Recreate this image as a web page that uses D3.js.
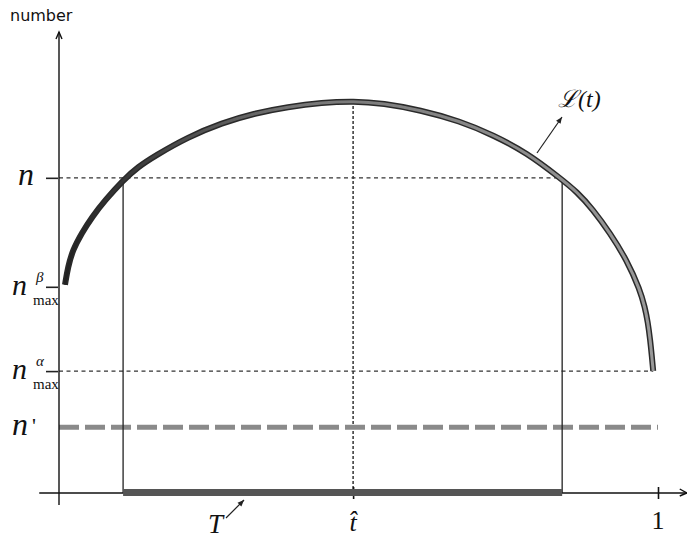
<!DOCTYPE html>
<html>
<head>
<meta charset="utf-8">
<script src="https://cdn.jsdelivr.net/npm/d3@7"></script>
<style>
  body { margin: 0; background: #fff; }
  .math { font-family: "Liberation Serif", "DejaVu Serif", serif; font-style: italic; fill: #111; }
</style>
</head>
<body>
<div id="chart"></div>
<script>
// curve L(t)
var tVals = [0.010, 0.015, 0.023, 0.038, 0.055, 0.077, 0.107, 0.132, 0.160, 0.215, 0.272, 0.327, 0.382, 0.439, 0.492,
             0.541, 0.603, 0.669, 0.725, 0.781, 0.836, 0.865, 0.891, 0.920, 0.948, 0.970, 0.978, 0.983, 0.987, 0.990, 0.992];
var lVals = [0.531, 0.577, 0.620, 0.663, 0.704, 0.747, 0.798, 0.832, 0.860, 0.908, 0.944, 0.969, 0.985, 0.996, 1.000,
             0.994, 0.977, 0.949, 0.913, 0.868, 0.804, 0.768, 0.724, 0.663, 0.594, 0.518, 0.474, 0.436, 0.390, 0.344, 0.311];

// levels on the number axis
var nLevel = 0.804;
var nBeta = 0.526;
var nAlpha = 0.311;
var nPrime = 0.168;
var yTop = 1.176;

// points on the time axis
var tHat = 0.491;
var T = [0.107, 0.840];
var tEnd = 1.048;
var tStart = -0.033;

var svgWidth = 687;
var svgHeight = 539;

var svg = d3.select("#chart")
  .append("svg")
  .attr("width", svgWidth)
  .attr("height", svgHeight);

var x = d3.scaleLinear().domain([0, 1]).range([59, 658]);
var y = d3.scaleLinear().domain([0, 1]).range([493, 101]);

var defs = svg.append("defs");
var grad = defs.append("linearGradient")
  .attr("id", "curveGrad")
  .attr("x1", "0%").attr("x2", "100%");
grad.append("stop").attr("offset", "0%").attr("stop-color", "#222");
grad.append("stop").attr("offset", "40%").attr("stop-color", "#777");
grad.append("stop").attr("offset", "100%").attr("stop-color", "#999");

// dotted guide lines
var dotted = svg.append("g")
  .attr("stroke", "#333")
  .attr("stroke-width", 1.3)
  .attr("stroke-dasharray", "4,3.5")
  .attr("fill", "none");

dotted.append("line")
  .attr("x1", x(0)).attr("x2", x(T[1]))
  .attr("y1", y(nLevel)).attr("y2", y(nLevel));

dotted.append("line")
  .attr("x1", x(0)).attr("x2", x(tVals[tVals.length - 1]))
  .attr("y1", y(nAlpha)).attr("y2", y(nAlpha));

dotted.append("line")
  .attr("x1", x(tHat)).attr("x2", x(tHat))
  .attr("y1", y(1)).attr("y2", y(0))
  .attr("stroke-dasharray", "3,2")
  .attr("stroke-width", 1.5);

// n' dashed level
svg.append("line")
  .attr("x1", x(0)).attr("x2", x(1))
  .attr("y1", y(nPrime)).attr("y2", y(nPrime))
  .attr("stroke", "#8a8a8a")
  .attr("stroke-width", 5)
  .attr("stroke-dasharray", "20,6");

// vertical lines at the ends of T
svg.selectAll(".tline")
  .data(T)
  .enter()
  .append("line")
  .attr("class", "tline")
  .attr("x1", function(d) { return x(d); })
  .attr("x2", function(d) { return x(d); })
  .attr("y1", y(nLevel))
  .attr("y2", y(0))
  .attr("stroke", "#222")
  .attr("stroke-width", 1.3);

// axes
var axisG = svg.append("g").attr("stroke", "#111").attr("stroke-width", 1.4).attr("fill", "none");
axisG.append("line")
  .attr("x1", x(tStart)).attr("x2", x(tEnd))
  .attr("y1", y(0)).attr("y2", y(0));
axisG.append("path")
  .attr("d", "M" + (x(tEnd) - 7) + "," + (y(0) - 4) + "L" + x(tEnd) + "," + y(0) + "L" + (x(tEnd) - 7) + "," + (y(0) + 3));
axisG.append("line")
  .attr("x1", x(0)).attr("x2", x(0))
  .attr("y1", y(0) + 12).attr("y2", y(yTop));
axisG.append("path")
  .attr("d", "M" + (x(0) - 3) + "," + (y(yTop) + 7) + "L" + x(0) + "," + y(yTop) + "L" + (x(0) + 3) + "," + (y(yTop) + 7));

// bottom ticks
var bottomAxis = d3.axisBottom(x)
  .tickValues([tHat, 1])
  .tickSize(12)
  .tickFormat("");
var xAxis = svg.append("g")
  .attr("transform", "translate(0," + (y(0) - 6) + ")")
  .call(bottomAxis);
xAxis.select(".domain").remove();
xAxis.selectAll(".tick line").attr("stroke", "#111").attr("stroke-width", 1.6);

// left ticks
var leftAxis = d3.axisLeft(y)
  .tickValues([nLevel, nBeta, nAlpha])
  .tickSize(12)
  .tickFormat("");
var yAxis = svg.append("g")
  .attr("transform", "translate(" + (x(0) - 1) + ",0)")
  .call(leftAxis);
yAxis.select(".domain").remove();
yAxis.selectAll(".tick line").attr("stroke", "#222").attr("stroke-width", 1.6);

// thick bar for the interval T
svg.append("line")
  .attr("x1", x(T[0])).attr("x2", x(T[1]))
  .attr("y1", y(0) - 0.5).attr("y2", y(0) - 0.5)
  .attr("stroke", "#555")
  .attr("stroke-width", 7);

// the curve L(t)
var curveData = tVals.map(function(t, i) { return { t: t, l: lVals[i] }; });
var line = d3.line()
  .x(function(d) { return x(d.t); })
  .y(function(d) { return y(d.l); })
  .curve(d3.curveBasis);

svg.append("path")
  .datum(curveData)
  .attr("d", line)
  .attr("fill", "none")
  .attr("stroke", "#2a2a2a")
  .attr("stroke-width", 6)
  .attr("stroke-linecap", "butt");
svg.append("path")
  .datum(curveData)
  .attr("d", line)
  .attr("fill", "none")
  .attr("stroke", "url(#curveGrad)")
  .attr("stroke-width", 3);

// labels
svg.append("text")
  .attr("x", 10).attr("y", 21)
  .attr("font-family", "DejaVu Sans, sans-serif")
  .attr("font-size", 16)
  .attr("fill", "#111")
  .text("number");

svg.append("text").attr("class", "math")
  .attr("x", 18).attr("y", y(nLevel) + 7)
  .attr("font-size", 32)
  .text("n");

function maxLabel(level, greek, dy) {
  var g = svg.append("g");
  g.append("text").attr("class", "math")
    .attr("x", 12).attr("y", y(level) + dy)
    .attr("font-size", 30)
    .text("n");
  g.append("text").attr("class", "math")
    .attr("x", 36).attr("y", y(level) + dy - 13)
    .attr("font-size", 15)
    .text(greek);
  g.append("text")
    .attr("x", 33).attr("y", y(level) + dy + 10)
    .attr("font-family", "Liberation Serif, serif")
    .attr("font-size", 15)
    .attr("fill", "#111")
    .text("max");
}
maxLabel(nBeta, "\u03B2", 8);
maxLabel(nAlpha, "\u03B1", 8);

svg.append("text").attr("class", "math")
  .attr("x", 12).attr("y", y(nPrime) + 8)
  .attr("font-size", 32)
  .text("n");
svg.append("text")
  .attr("x", 32).attr("y", y(nPrime) + 6)
  .attr("font-family", "Liberation Serif, serif")
  .attr("font-size", 22)
  .attr("fill", "#111")
  .text("'");

svg.append("text").attr("class", "math")
  .attr("x", 208).attr("y", 533)
  .attr("font-size", 27)
  .text("T");

svg.append("text").attr("class", "math")
  .attr("x", x(tHat)).attr("y", 531)
  .attr("text-anchor", "middle")
  .attr("font-size", 26)
  .text("t\u0302");

svg.append("text")
  .attr("x", x(1)).attr("y", 529)
  .attr("text-anchor", "middle")
  .attr("font-family", "Liberation Serif, serif")
  .attr("font-size", 26)
  .attr("fill", "#111")
  .text("1");

svg.append("text").attr("class", "math")
  .attr("x", 558).attr("y", 107)
  .attr("font-size", 24)
  .text("\u2112(t)");

// pointer arrows
function pointer(x1, y1, x2, y2) {
  var a = Math.atan2(y2 - y1, x2 - x1);
  svg.append("line")
    .attr("x1", x1).attr("y1", y1).attr("x2", x2).attr("y2", y2)
    .attr("stroke", "#222").attr("stroke-width", 1.2);
  var p = [[x2, y2],
           [x2 - 7 * Math.cos(a - 0.4), y2 - 7 * Math.sin(a - 0.4)],
           [x2 - 7 * Math.cos(a + 0.4), y2 - 7 * Math.sin(a + 0.4)]];
  svg.append("path")
    .attr("d", "M" + p.join("L") + "Z")
    .attr("fill", "#222");
}
pointer(537, 153, 562, 117);
pointer(226, 518, 244, 500);
</script>
</body>
</html>
